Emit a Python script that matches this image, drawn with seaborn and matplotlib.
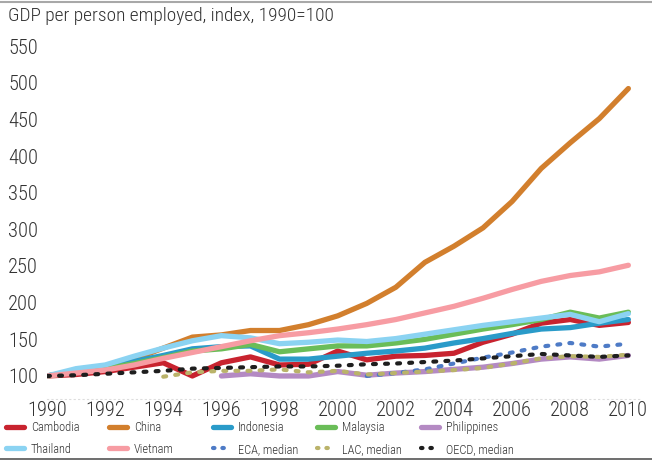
import numpy as np
import pandas as pd
import matplotlib
matplotlib.use("Agg")
import matplotlib.pyplot as plt
from matplotlib.lines import Line2D
from matplotlib import font_manager as fm
import seaborn as sns

nan = np.nan
years = list(range(1990, 2011))
cambodia = [100, 102, 106, 112, 118, 100, 118, 126, 115, 116, 134, 122, 127, 128, 131, 146, 157, 172, 177, 169, 173]
china = [100, 106, 111, 123, 138, 153, 156, 162, 162, 170, 182, 199, 221, 255, 277, 302, 338, 383, 418, 451, 492]
indonesia = [100, 107, 112, 120, 128, 137, 140, 141, 123, 123, 127, 131, 134, 138, 145, 151, 158, 164, 166, 172, 177]
malaysia = [100, 106, 110, 117, 125, 134, 137, 143, 133, 137, 141, 141, 145, 150, 157, 164, 170, 177, 187, 179, 187]
philippines = [nan] * 6 + [100, 103, 100, 100, 106, 101, 104, 106, 109, 112, 117, 123, 126, 123, 128]
thailand = [100, 110, 115, 127, 138, 148, 155, 152, 144, 146, 149, 147, 151, 157, 163, 169, 174, 179, 184, 174, 185]
vietnam = [100, 104, 108, 115, 124, 132, 140, 148, 155, 159, 164, 170, 177, 186, 195, 206, 218, 229, 237, 242, 251]
eca_median = [nan] * 11 + [100, 104, 109, 117, 125, 132, 140, 145, 140, 144]
lac_median = [nan] * 4 + [99, 105, 107, 107, 109, 105, 107, 102, 104, 106, 108, 111, 117, 124, 127, 126, 129]
oecd_median = [100, 101, 103, 105, 107, 110, 111, 112, 113, 113, 114, 116, 117, 119, 121, 124, 127, 130, 128, 126, 128]

series_names = ["Cambodia", "China", "Indonesia", "Malaysia", "Philippines",
                "Thailand", "Vietnam", "ECA, median", "LAC, median", "OECD, median"]
series_values = [cambodia, china, indonesia, malaysia, philippines,
                 thailand, vietnam, eca_median, lac_median, oecd_median]
colors = ["#C8232F", "#D27F2D", "#2A9BC9", "#6ABD58", "#B48AC3",
          "#8BD3F2", "#F79CA3", "#4E7BC6", "#BAB36A", "#1E1E1E"]
dotted = [False] * 7 + [True] * 3

y_ticks = [100, 150, 200, 250, 300, 350, 400, 450, 500, 550]
x_ticks = list(range(1990, 2011, 2))
title = "GDP per person employed, index, 1990=100"

df = pd.DataFrame({"year": years})
for n, v in zip(series_names, series_values):
    df[n] = v

sns.set_theme(style="white")
available = {f.name for f in fm.fontManager.ttflist}
fam = "DejaVu Sans"
for cand in ["Roboto Condensed", "Liberation Sans Narrow", "Open Sans Condensed",
             "Noto Sans Condensed", "Roboto", "Liberation Sans"]:
    if cand in available:
        fam = cand
        break
plt.rcParams["font.family"] = [fam, "DejaVu Sans"]
plt.rcParams["font.weight"] = "light"
TXT = "#333333"

W, H = 652, 461
fig = plt.figure(figsize=(W / 100, H / 100), dpi=100)
renderer = fig.canvas.get_renderer()


def fit_size(text, target_px, base=12.0):
    t = fig.text(0, 0, text, fontsize=base, fontweight="light")
    w = t.get_window_extent(renderer=renderer).width
    t.remove()
    return base * target_px / w


title_fs = fit_size(title, 326)
tick_fs = fit_size("2010", 40)
leg_fs = fit_size("Cambodia", 49)

ax_l, ax_r, ax_t, ax_b = 47, 640, 40, 399
ax = fig.add_axes([ax_l / W, 1 - ax_b / H, (ax_r - ax_l) / W, (ax_b - ax_t) / H])

DOT = (0, (0.7, 2.2))
for n, c, d in zip(series_names, colors, dotted):
    if d:
        sns.lineplot(data=df, x="year", y=n, ax=ax, color=c, lw=3.0,
                     linestyle=DOT, dash_capstyle="round")
    else:
        sns.lineplot(data=df, x="year", y=n, ax=ax, color=c, lw=3.8,
                     solid_capstyle="round", solid_joinstyle="round")

ax.set_xlim(1990, 2010.4)
ax.set_ylim(68.6, 558.2)
ax.set_xticks(x_ticks)
ax.set_yticks(y_ticks)
ax.set_xlabel("")
ax.set_ylabel("")
for s in ["top", "right", "left"]:
    ax.spines[s].set_visible(False)
ax.spines["bottom"].set_color("#dddddd")
ax.spines["bottom"].set_linestyle((0, (1, 3)))
ax.spines["bottom"].set_linewidth(0.8)
ax.tick_params(axis="both", length=0, labelsize=tick_fs, labelcolor=TXT)
ax.tick_params(axis="x", pad=1.5)
ax.tick_params(axis="y", pad=28)
for lab in ax.get_yticklabels() + ax.get_xticklabels():
    lab.set_fontweight("light")
for lab in ax.get_yticklabels():
    lab.set_horizontalalignment("left")
ax.grid(False)
ax.set_facecolor("white")

fig.text(8 / W, 1 - 16 / H, title, ha="left", va="center", fontsize=title_fs,
         color=TXT, fontweight="light")

# frame lines top/bottom
fig.add_artist(Line2D([0, 1], [1 - 2 / H, 1 - 2 / H], transform=fig.transFigure,
                      color="#a8a8a8", lw=1.5))
fig.add_artist(Line2D([0, 1], [1 - 459 / H, 1 - 459 / H], transform=fig.transFigure,
                      color="#555555", lw=1.2))

# legend: one legend per column so columns are evenly spaced
col_x = [6, 109, 213, 317, 421]
leg_px = leg_fs * 100 / 72
for ci in range(5):
    handles = []
    labels = []
    for ri in range(2):
        k = ri * 5 + ci
        if dotted[k]:
            h = Line2D([], [], color=colors[k], lw=3.0, linestyle=(0, (0.35, 1.9)),
                       dash_capstyle="round")
        else:
            h = Line2D([], [], color=colors[k], lw=3.8, solid_capstyle="round")
        handles.append(h)
        labels.append(series_names[k])
    leg = fig.legend(handles, labels, loc="center left",
                     bbox_to_anchor=(col_x[ci] / W, 1 - 438.5 / H),
                     frameon=False, handlelength=18 / leg_px,
                     handletextpad=7 / leg_px, labelspacing=(21 - leg_px) / leg_px,
                     borderpad=0, borderaxespad=0,
                     prop={"size": leg_fs, "weight": "light"})
    for t in leg.get_texts():
        t.set_color(TXT)

fig.savefig("out.png", dpi=100, facecolor="white")
